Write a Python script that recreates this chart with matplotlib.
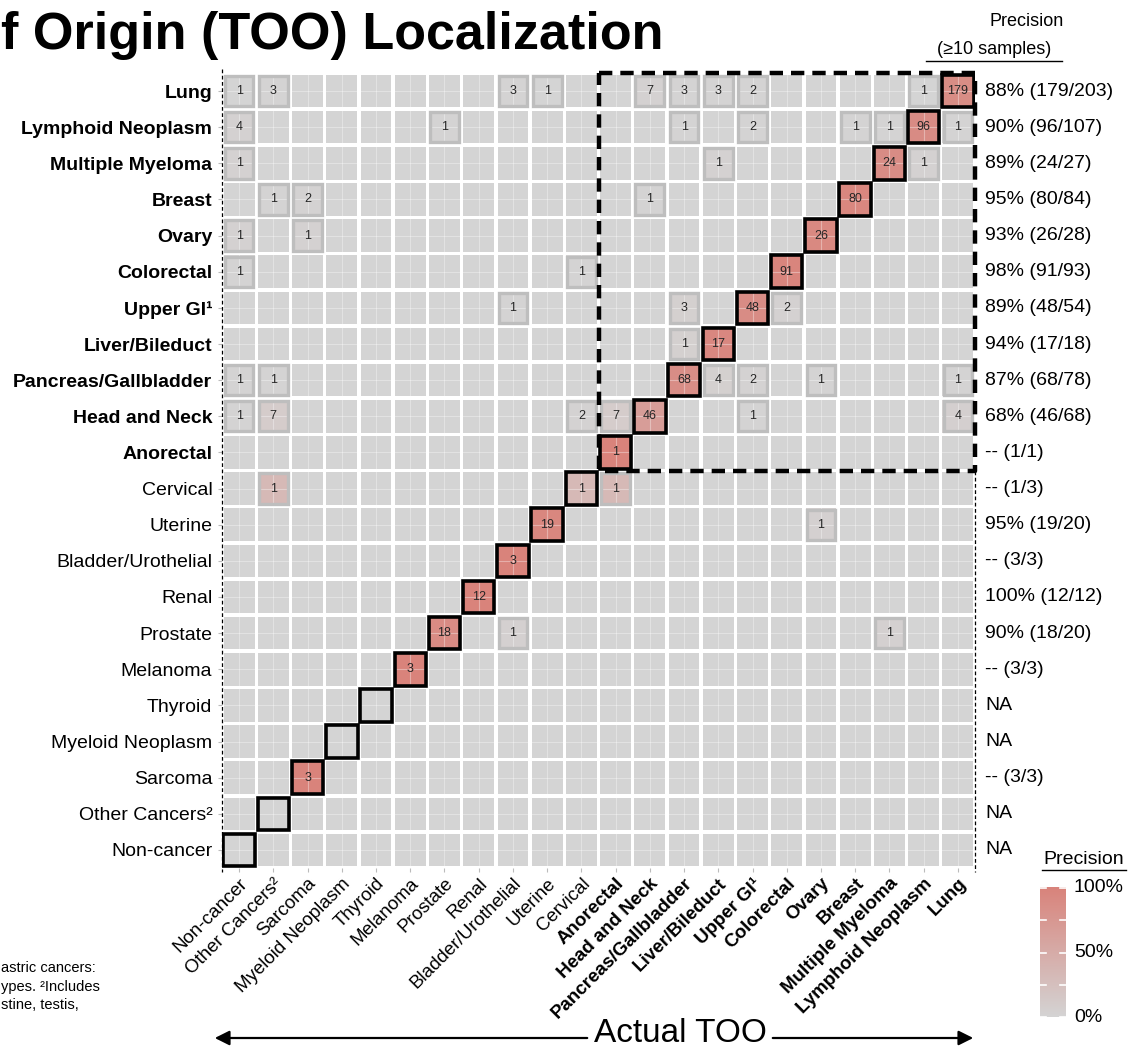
import numpy as np
import matplotlib
matplotlib.use("Agg")
import matplotlib.pyplot as plt
from matplotlib.patches import Rectangle, FancyArrowPatch
from matplotlib.colors import LinearSegmentedColormap

plt.rcParams['font.family'] = ['Liberation Sans', 'DejaVu Sans']

# predicted TOO, top to bottom
rows = ["Lung", "Lymphoid Neoplasm", "Multiple Myeloma", "Breast", "Ovary",
        "Colorectal", "Upper GI¹", "Liver/Bileduct", "Pancreas/Gallbladder",
        "Head and Neck", "Anorectal", "Cervical", "Uterine", "Bladder/Urothelial",
        "Renal", "Prostate", "Melanoma", "Thyroid", "Myeloid Neoplasm",
        "Sarcoma", "Other Cancers²", "Non-cancer"]
# actual TOO, left to right
columns = rows[::-1]
n_bold = 11  # first eleven classes are the GI / upper-body group

# counts[i][j]: predicted rows[i], actual columns[j]
counts = [
    [1, 3, 0, 0, 0, 0, 0, 0, 3, 1, 0, 0, 7, 3, 3, 2, 0, 0, 0, 0, 1, 179],
    [4, 0, 0, 0, 0, 0, 1, 0, 0, 0, 0, 0, 0, 1, 0, 2, 0, 0, 1, 1, 96, 1],
    [1, 0, 0, 0, 0, 0, 0, 0, 0, 0, 0, 0, 0, 0, 1, 0, 0, 0, 0, 24, 1, 0],
    [0, 1, 2, 0, 0, 0, 0, 0, 0, 0, 0, 0, 1, 0, 0, 0, 0, 0, 80, 0, 0, 0],
    [1, 0, 1, 0, 0, 0, 0, 0, 0, 0, 0, 0, 0, 0, 0, 0, 0, 26, 0, 0, 0, 0],
    [1, 0, 0, 0, 0, 0, 0, 0, 0, 0, 1, 0, 0, 0, 0, 0, 91, 0, 0, 0, 0, 0],
    [0, 0, 0, 0, 0, 0, 0, 0, 1, 0, 0, 0, 0, 3, 0, 48, 2, 0, 0, 0, 0, 0],
    [0, 0, 0, 0, 0, 0, 0, 0, 0, 0, 0, 0, 0, 1, 17, 0, 0, 0, 0, 0, 0, 0],
    [1, 1, 0, 0, 0, 0, 0, 0, 0, 0, 0, 0, 0, 68, 4, 2, 0, 1, 0, 0, 0, 1],
    [1, 7, 0, 0, 0, 0, 0, 0, 0, 0, 2, 7, 46, 0, 0, 1, 0, 0, 0, 0, 0, 4],
    [0, 0, 0, 0, 0, 0, 0, 0, 0, 0, 0, 1, 0, 0, 0, 0, 0, 0, 0, 0, 0, 0],
    [0, 1, 0, 0, 0, 0, 0, 0, 0, 0, 1, 1, 0, 0, 0, 0, 0, 0, 0, 0, 0, 0],
    [0, 0, 0, 0, 0, 0, 0, 0, 0, 19, 0, 0, 0, 0, 0, 0, 0, 1, 0, 0, 0, 0],
    [0, 0, 0, 0, 0, 0, 0, 0, 3, 0, 0, 0, 0, 0, 0, 0, 0, 0, 0, 0, 0, 0],
    [0, 0, 0, 0, 0, 0, 0, 12, 0, 0, 0, 0, 0, 0, 0, 0, 0, 0, 0, 0, 0, 0],
    [0, 0, 0, 0, 0, 0, 18, 0, 1, 0, 0, 0, 0, 0, 0, 0, 0, 0, 0, 1, 0, 0],
    [0, 0, 0, 0, 0, 3, 0, 0, 0, 0, 0, 0, 0, 0, 0, 0, 0, 0, 0, 0, 0, 0],
    [0] * 22,
    [0] * 22,
    [0, 0, 3, 0, 0, 0, 0, 0, 0, 0, 0, 0, 0, 0, 0, 0, 0, 0, 0, 0, 0, 0],
    [0] * 22,
    [0] * 22,
]
counts = np.array(counts)
n = len(rows)

grey = "#d4d4d4"
cmap = LinearSegmentedColormap.from_list("prec", [grey, "#d9837b"])

fig = plt.figure(figsize=(11.28, 10.55), dpi=100)
W, H = 1128, 1055


def fx(px):
    return px / W


def fy(py):
    return 1 - py / H


ax = fig.add_axes([fx(222), fy(868), fx(975) - fx(222), fy(73) - fy(868)])
ax.set_xlim(-0.5, n - 0.5)
ax.set_ylim(n - 0.5, -0.5)
ax.set_facecolor("white")
for s in ax.spines.values():
    s.set_visible(False)

row_sums = counts.sum(axis=1)
size = 0.9
for i in range(n):
    for j in range(n):
        v = counts[i, j]
        diag = (j == n - 1 - i)
        frac = v / row_sums[i] if row_sums[i] > 0 else 0
        face = cmap(frac) if v > 0 else grey
        ax.add_patch(Rectangle((j - 0.5 + (1 - size) / 2, i - 0.5 + (1 - size) / 2),
                               size, size, facecolor=face, edgecolor="none", zorder=1))
        if diag:
            ax.add_patch(Rectangle((j - 0.46, i - 0.45), 0.92, 0.9, facecolor="none",
                                   edgecolor="black", lw=2.6, zorder=4))
        elif v > 0:
            ax.add_patch(Rectangle((j - 0.42, i - 0.42), 0.84, 0.84, facecolor="none",
                                   edgecolor="#bebebe", lw=2.4, zorder=3))
        if v > 0:
            ax.text(j, i, str(v), ha="center", va="center", fontsize=9,
                    color="#262626", zorder=5)

# faint major grid through the tiles
for k in range(n):
    ax.axvline(k, color="white", lw=0.8, alpha=0.35, zorder=2)
    ax.axhline(k, color="white", lw=0.8, alpha=0.35, zorder=2)

ax.set_xticks(range(n))
ax.set_yticks(range(n))
ax.set_xticklabels(columns, rotation=45, ha="right", va="top",
                   rotation_mode="anchor", fontsize=13.5)
ax.set_yticklabels(rows, fontsize=14)
for k, lab in enumerate(ax.get_xticklabels()):
    if k >= n - n_bold:
        lab.set_fontweight("bold")
for k, lab in enumerate(ax.get_yticklabels()):
    if k < n_bold:
        lab.set_fontweight("bold")
ax.tick_params(axis="x", length=3, color="#bbbbbb", pad=2)
ax.tick_params(axis="y", length=3, color="#bbbbbb", pad=4)

# dashed frames
ax.plot([-0.5, -0.5], [-0.6, n - 0.4], color="black", lw=0.9, ls=(0, (3, 2)),
        clip_on=False, zorder=6)
ax.plot([n - 0.5, n - 0.5], [n_bold - 0.5, n - 0.4], color="black", lw=0.9,
        ls=(0, (3, 2)), clip_on=False, zorder=6)
bx0, bx1 = n - n_bold - 0.5, n - 0.5
by0, by1 = -0.5, n_bold - 0.5
ax.plot([bx0, bx1, bx1, bx0, bx0], [by0, by0, by1, by1, by0], color="black",
        lw=3.2, ls=(0, (3, 1.8)), clip_on=False, zorder=6)

# precision column on the right
for i in range(n):
    d = counts[i, n - 1 - i]
    t = row_sums[i]
    if t >= 10:
        lab = f"{round(100 * d / t)}% ({d}/{t})"
    elif t > 0:
        lab = f"-- ({d}/{t})"
    else:
        lab = "NA"
    ax.text(n - 0.5 + 0.3, i, lab, ha="left", va="center", fontsize=14)

fig.text(fx(1027), fy(22), "Precision", ha="center", va="center", fontsize=13)
fig.text(fx(994), fy(50), "(≥10 samples)", ha="center", va="center", fontsize=13)
fig.add_artist(plt.Line2D([fx(926), fx(1062)], [fy(61), fy(61)], color="black", lw=1))

# title
fig.text(fx(1), fy(36), "f Origin (TOO) Localization", ha="left",
         va="center", fontsize=37.5, fontweight="bold")

# footnote
foot = ["astric cancers:", "ypes. ²Includes", "stine, testis,"]
for k, line in enumerate(foot):
    fig.text(fx(1), fy(968 + 18.5 * k), line, ha="left", va="center", fontsize=10.5)

# axis title with arrows
fig.text(fx(680), fy(1033), "Actual TOO", ha="center", va="center", fontsize=24)
arrow = dict(arrowstyle="-|>", color="black", lw=1.6, mutation_scale=22)
fig.add_artist(FancyArrowPatch((fx(590), fy(1038)), (fx(212), fy(1038)),
                               transform=fig.transFigure, **arrow))
fig.add_artist(FancyArrowPatch((fx(770), fy(1038)), (fx(976), fy(1038)),
                               transform=fig.transFigure, **arrow))

# colour scale legend
cax = fig.add_axes([fx(1040), fy(1020), fx(1066) - fx(1040), fy(885) - fy(1020)])
grad = np.linspace(0, 1, 256).reshape(-1, 1)
cax.imshow(grad, cmap=cmap, aspect="auto", origin="lower", extent=[0, 1, 0, 1])
for p in [0, 0.25, 0.5, 0.75, 1.0]:
    cax.plot([0, 0.22], [p, p], color="white", lw=1.2)
    cax.plot([0.78, 1], [p, p], color="white", lw=1.2)
cax.set_xlim(0, 1)
cax.set_ylim(-0.02, 1.02)
cax.axis("off")
for p, lab in [(0, "0%"), (0.5, "50%"), (1.0, "100%")]:
    cax.text(1.3, p, lab, ha="left", va="center", fontsize=14, clip_on=False)
fig.text(fx(1084), fy(860), "Precision", ha="center", va="center", fontsize=14)
fig.add_artist(plt.Line2D([fx(1042), fx(1126)], [fy(870), fy(870)], color="black", lw=1))

fig.savefig("out.png", dpi=100)
